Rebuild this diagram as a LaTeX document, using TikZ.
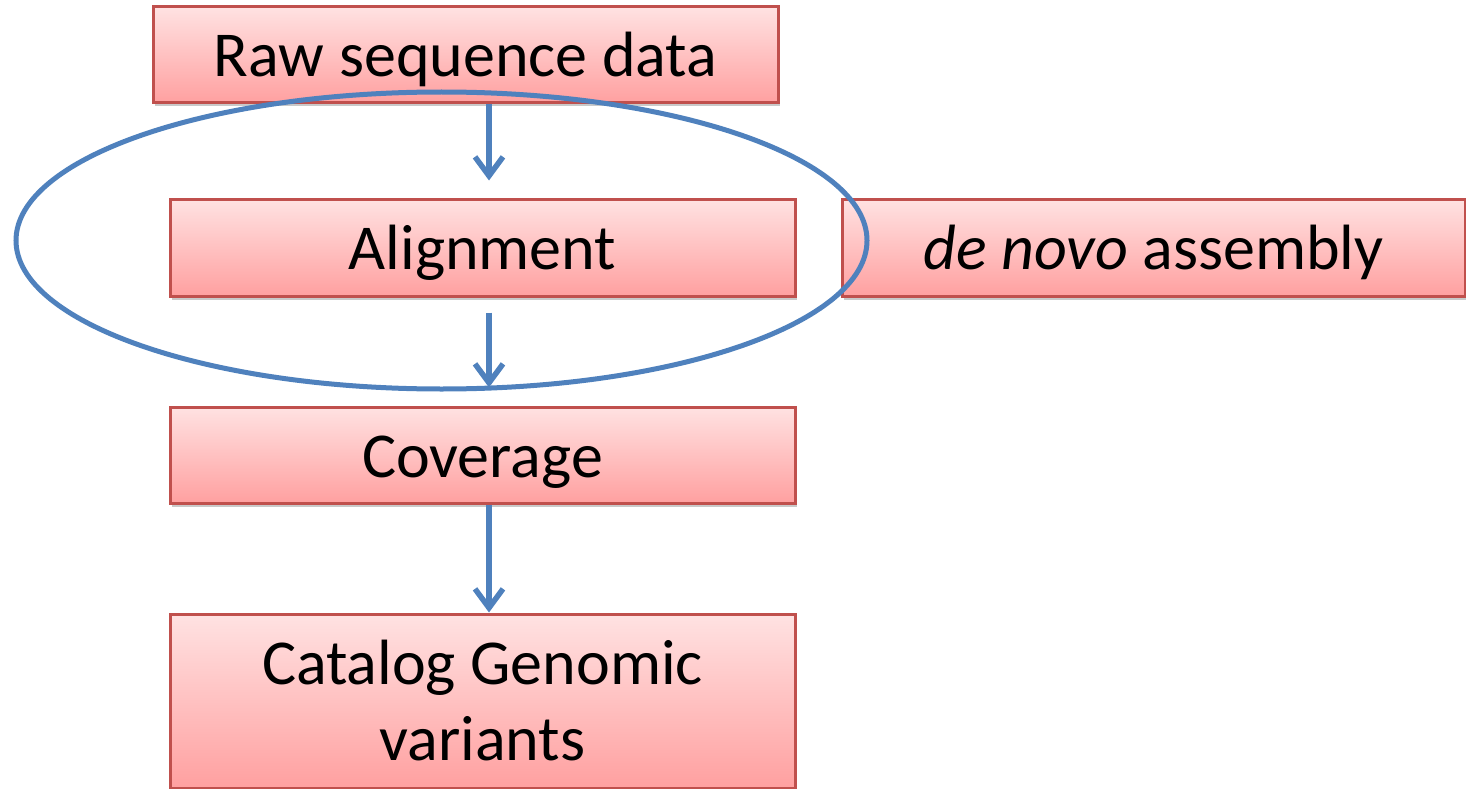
\documentclass[tikz,border=0pt]{standalone}
\usepackage{fontspec}
\setmainfont{Carlito}
\usetikzlibrary{arrows.meta,shapes.geometric,shadows}
\definecolor{boxborder}{RGB}{192,80,77}
\definecolor{boxtop}{RGB}{255,226,226}
\definecolor{boxbot}{RGB}{255,160,160}
\definecolor{flowblue}{RGB}{79,129,189}
\tikzset{
  stepbox/.style={rectangle, draw=boxborder, line width=3pt, top color=boxtop, bottom color=boxbot,
    inner sep=0pt, font=\fontsize{64pt}{76pt}\selectfont, text=black,
    drop shadow={shadow xshift=1.5pt, shadow yshift=-3.5pt, opacity=0.3, fill=black!70}},
  onetext/.style={text height=58pt, text depth=14pt},
  flowarrow/.style={draw=flowblue, line width=5.5pt, -{Straight Barb[length=19pt,width=28pt]}},
  groupring/.style={ellipse, draw=flowblue, line width=5pt, inner sep=0pt}
}
\begin{document}
\begin{tikzpicture}[x=1pt,y=-1pt]
\useasboundingbox (0,0) rectangle (1466,789);
\node[stepbox, onetext, minimum width=625pt, minimum height=96pt] (raw) at (465.5,55) {Raw sequence data};
\node[stepbox, onetext, minimum width=625pt, minimum height=97pt] (align) at (482.5,247.5) {Alignment};
\node[stepbox, onetext, minimum width=623pt, minimum height=97pt] (denovo) at (1153.5,247.5) {\textit{de novo} assembly};
\node[stepbox, onetext, minimum width=625pt, minimum height=96pt] (cov) at (482.5,455) {Coverage};
\node[stepbox, align=center, minimum width=625pt, minimum height=174pt] (cat) at (482.5,701) {Catalog Genomic\\variants};
\coordinate (ax) at (489,0);
\draw[flowarrow, shorten >=17pt] (raw.south -| ax) -- (align.north -| ax);
\draw[flowarrow, shorten <=15pt, shorten >=18pt] (align.south -| ax) -- (cov.north -| ax);
\draw[flowarrow] (cov.south -| ax) -- (cat.north -| ax);
\node[groupring, minimum width=851pt, minimum height=297pt] (grp) at (441.5,240.5) {};
\end{tikzpicture}
\end{document}
